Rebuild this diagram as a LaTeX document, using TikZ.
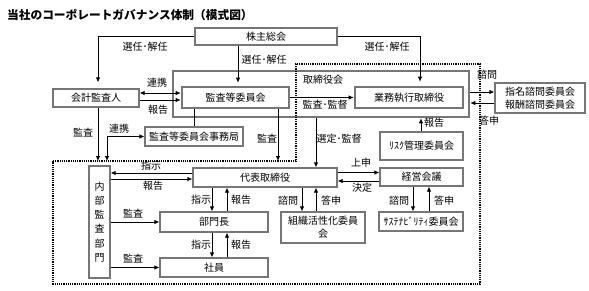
\documentclass[tikz,border=0pt]{standalone}
\usepackage{fontspec}
\setmainfont{Noto Sans CJK JP}
\usetikzlibrary{arrows.meta}
\definecolor{bordergray}{RGB}{118,118,118}
\begin{document}
\begin{tikzpicture}[x=1pt,y=-1pt,
  font=\fontsize{10}{12}\selectfont,
  box/.style={draw=bordergray, line width=1.3pt, inner sep=0pt, align=center},
  thickbox/.style={box, line width=2.6pt},
  arr/.style={-{Latex[length=5pt,width=4.5pt]}, line width=0.8pt},
  darr/.style={{Latex[length=5pt,width=4.5pt]}-{Latex[length=5pt,width=4.5pt]}, line width=0.8pt},
  lab/.style={inner sep=0pt},
  dotbox/.style={densely dotted, line width=1.2pt}]
\useasboundingbox (0,0) rectangle (589,290);

% title
\node[lab, anchor=west, font=\fontsize{11.7}{14}\selectfont\bfseries] (title) at (7,15) {当社のコーポレートガバナンス体制（模式図）};

% boxes
\node[box, minimum width=142pt, minimum height=17pt] (kabu) at (266,36.5) {株主総会};
\node[thickbox, minimum width=296pt, minimum height=46pt] (tori) at (321,94) {};
\node[lab] (torilab) at (323,80) {取締役会};
\node[thickbox, minimum width=107pt, minimum height=21pt] (kansa) at (235.5,97.5) {監査等委員会};
\node[thickbox, minimum width=108pt, minimum height=21pt] (gyomu) at (409,97.5) {業務執行取締役};
\node[box, minimum width=86pt, minimum height=18pt] (kaikei) at (96,98) {会計監査人};
\node[box, minimum width=98pt, minimum height=19pt] (jimu) at (194,136.5) {監査等委員会事務局};
\node[box, minimum width=21pt, minimum height=112pt, font=\fontsize{10}{14.2}\selectfont] (naibu) at (99.5,222) {内\\部\\監\\査\\部\\門};
\node[box, minimum width=144pt, minimum height=19pt] (daihyo) at (265,177.5) {代表取締役};
\node[box, minimum width=108pt, minimum height=20pt] (bumon) at (214,222) {部門長};
\node[box, minimum width=108pt, minimum height=19pt] (shain) at (214,267.5) {社員};
\node[box, minimum width=83pt, minimum height=18pt] (keiei) at (421.5,177) {経営会議};
\node[box, minimum width=84pt, minimum height=31pt, font=\fontsize{10}{13}\selectfont] (soshiki) at (323,227.5) {組織活性化委員\\会};
\node[box, minimum width=84pt, minimum height=19pt] (sustain) at (421,221.5) {ｻｽﾃﾅﾋﾞﾘﾃｨ委員会};
\node[box, minimum width=83pt, minimum height=28pt] (risk) at (421.5,146) {ﾘｽｸ管理委員会};
\node[box, minimum width=90pt, minimum height=30pt, font=\fontsize{10}{13}\selectfont] (shimei) at (540,98) {指名諮問委員会\\報酬諮問委員会};

% dotted executive region
\coordinate (dt) at (0,161);
\draw[dotbox] (53,161) -- (296,161) -- (296,64) -- (480,64) -- (480,284) -- (53,284) -- cycle;

% connectors from shareholders
\draw[arr, shorten >=6pt] (kabu.west) -| ([xshift=2pt]kaikei.north);
\draw[arr, shorten >=3pt] ([xshift=2.5pt]kansa.north |- kabu.south) -- ([xshift=2.5pt]kansa.north);
\draw[arr, shorten >=4pt] (kabu.east) -| ([xshift=11pt]gyomu.north);

% auditor
\draw[darr] ([yshift=5pt]kaikei.east) -- ([yshift=5pt]kaikei.east -| kansa.west);
\draw[arr] ([yshift=-2pt]kaikei.east) -- ([yshift=-2pt]kaikei.east -| kansa.west);
\draw[arr] ([xshift=2pt]kaikei.south) -- ([xshift=2pt]kaikei.south |- dt);
\draw[darr] (jimu.west) -| ([xshift=11pt]kaikei.south |- dt);
\draw (jimu.north |- kansa.south) -- (jimu.north);
\draw[arr] ([xshift=42.5pt]kansa.south) -- ([xshift=42.5pt]kansa.south |- dt);

% board
\draw[arr] (kansa.east) -- (gyomu.west);
\draw[arr] ([xshift=51pt]daihyo.north |- tori.south) -- ([xshift=51pt]daihyo.north);
\draw[arr] ([xshift=-0.5pt]risk.north) -- ([xshift=-0.5pt]risk.north |- tori.south);
\draw[arr] ([yshift=2pt]tori.east) -- ([yshift=2pt]tori.east -| shimei.west);
\draw[arr] ([yshift=-9pt]tori.east -| shimei.west) -- ([yshift=-9pt]tori.east);

% executive
\draw[arr] ([yshift=4.5pt]daihyo.west) -- ([yshift=4.5pt]daihyo.west -| naibu.east);
\draw[arr] ([yshift=-1.5pt]daihyo.west -| naibu.east) -- ([yshift=-1.5pt]daihyo.west);
\draw[arr] ([xshift=-2pt]bumon.north |- daihyo.south) -- ([xshift=-2pt]bumon.north);
\draw[arr] ([xshift=13pt]bumon.north) -- ([xshift=13pt]bumon.north |- daihyo.south);
\draw[arr] ([xshift=-2pt]shain.north |- bumon.south) -- ([xshift=-2pt]shain.north);
\draw[arr] ([xshift=13pt]shain.north) -- ([xshift=13pt]shain.north |- bumon.south);
\draw[arr] (naibu.east |- bumon.west) -- (bumon.west);
\draw[arr] (naibu.east |- shain.west) -- (shain.west);
\draw[arr] ([yshift=5pt]daihyo.east) -- ([yshift=5pt]daihyo.east -| keiei.west);
\draw[arr] ([yshift=-3.5pt]daihyo.east -| keiei.west) -- ([yshift=-3.5pt]daihyo.east);
\draw[arr] ([xshift=-21pt]soshiki.north |- daihyo.south) -- ([xshift=-21pt]soshiki.north);
\draw[arr] ([xshift=-7pt]soshiki.north) -- ([xshift=-7pt]soshiki.north |- daihyo.south);
\draw[arr] ([xshift=-8pt]sustain.north |- keiei.south) -- ([xshift=-8pt]sustain.north);
\draw[arr] ([xshift=8pt]sustain.north) -- ([xshift=8pt]sustain.north |- keiei.south);

% labels
\node[lab] (l1) at (145,47) {選任･解任};
\node[lab] (l2) at (264,60) {選任･解任};
\node[lab] (l3) at (387,47) {選任･解任};
\node[lab] (l4) at (157,83) {連携};
\node[lab] (l5) at (158,110) {報告};
\node[lab] (l6) at (83,133) {監査};
\node[lab] (l7) at (119,129) {連携};
\node[lab] (l8) at (267,139) {監査};
\node[lab] (l9) at (325,105) {監査･監督};
\node[lab] (l10) at (339,139) {選定･監督};
\node[lab] (l11) at (434,123) {報告};
\node[lab] (l12) at (487,75) {諮問};
\node[lab] (l13) at (489,121) {答申};
\node[lab] (l14) at (151,166) {指示};
\node[lab] (l15) at (153,186) {報告};
\node[lab] (l16) at (201,200) {指示};
\node[lab] (l17) at (241,200) {報告};
\node[lab] (l18) at (201,245) {指示};
\node[lab] (l19) at (241,245) {報告};
\node[lab] (l20) at (133,214) {監査};
\node[lab] (l21) at (133,259) {監査};
\node[lab] (l22) at (361,163) {上申};
\node[lab] (l23) at (362,188) {決定};
\node[lab] (l24) at (288,201) {諮問};
\node[lab] (l25) at (331,201) {答申};
\node[lab] (l26) at (399,201) {諮問};
\node[lab] (l27) at (444,201) {答申};
\end{tikzpicture}
\end{document}
